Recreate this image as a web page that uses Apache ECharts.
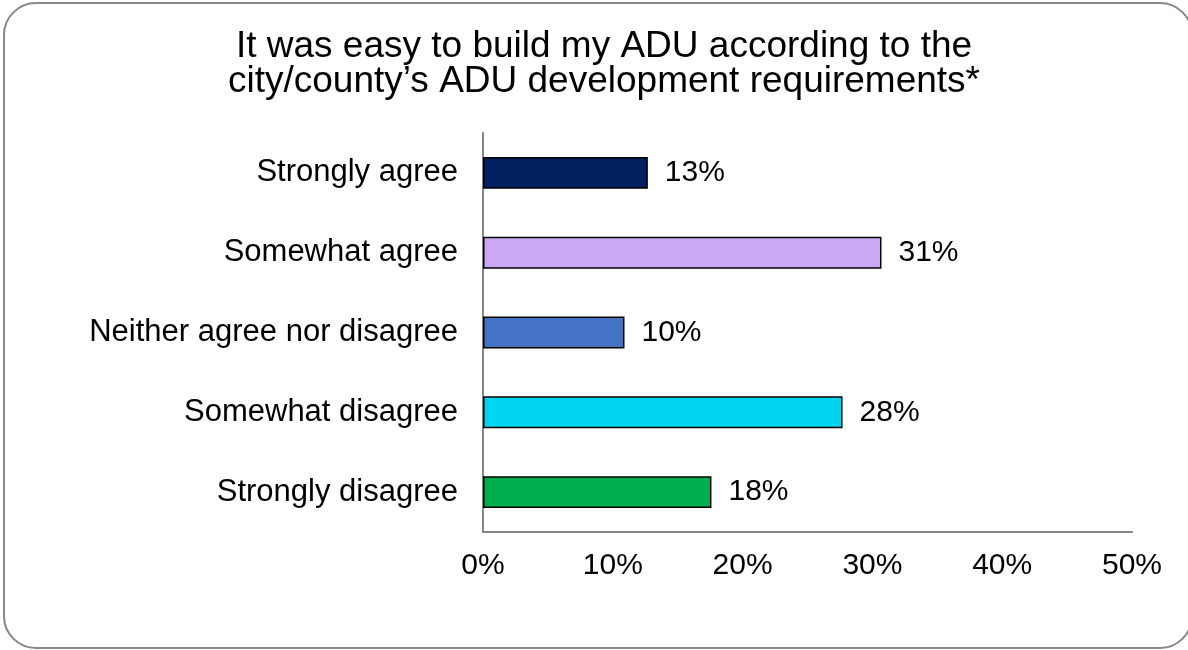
<!DOCTYPE html>
<html>
<head>
<meta charset="utf-8">
<script src="https://cdn.jsdelivr.net/npm/echarts@6/dist/echarts.min.js"></script>
<style>
  html, body { margin: 0; padding: 0; background: #fff; }
  #chart { width: 1188px; height: 650px; }
</style>
</head>
<body>
<div id="chart"></div>
<script>
  // categories top to bottom
  var categories = ['Strongly agree', 'Somewhat agree', 'Neither agree nor disagree', 'Somewhat disagree', 'Strongly disagree'];
  // bar lengths (percent)
  var values = [12.7, 30.7, 10.9, 27.7, 17.6];
  // labels as printed on the chart
  var valueLabels = ['13%', '31%', '10%', '28%', '18%'];
  var barColors = ['#002060', '#cca8f4', '#4472c4', '#00d5f0', '#00ae50'];
  var titleLines = ['It was easy to build my ADU according to the', 'city/county\u2019s ADU development requirements*'];

  var font = 'Liberation Sans, Arial, Helvetica, sans-serif';
  var myChart = echarts.init(document.getElementById('chart'));

  var option = {
    animation: false,
    title: {
      text: titleLines.join('\n'),
      left: 599,
      textAlign: 'center',
      top: 24,
      textStyle: {
        fontFamily: font,
        fontSize: 37,
        fontWeight: 'normal',
        color: '#000',
        lineHeight: 35
      }
    },
    graphic: [{
      type: 'rect',
      shape: { x: 4, y: 3, width: 1188, height: 645, r: 32 },
      style: { fill: 'none', stroke: '#888', lineWidth: 2 },
      silent: true
    }],
    grid: {
      left: 483,
      right: 56,
      top: 133,
      bottom: 118
    },
    xAxis: {
      type: 'value',
      min: 0,
      max: 50,
      interval: 10,
      axisLine: { show: true, lineStyle: { color: '#868686', width: 2 } },
      axisTick: { show: false },
      splitLine: { show: false },
      axisLabel: {
        formatter: '{value}%',
        margin: 19,
        fontFamily: font,
        fontSize: 30,
        color: '#000'
      }
    },
    yAxis: {
      type: 'category',
      inverse: true,
      data: categories,
      axisLine: { show: true, lineStyle: { color: '#868686', width: 2 } },
      axisTick: { show: false },
      axisLabel: {
        margin: 25,
        fontFamily: font,
        fontSize: 31,
        color: '#000'
      }
    },
    series: [{
      type: 'bar',
      barCategoryGap: '60%',
      data: values.map(function (v, i) {
        return { value: v, itemStyle: { color: barColors[i] } };
      }),
      itemStyle: { borderColor: '#000', borderWidth: 1.5 },
      label: {
        show: true,
        position: 'right',
        distance: 17,
        fontFamily: font,
        fontSize: 30,
        color: '#000',
        formatter: function (p) { return valueLabels[p.dataIndex]; }
      }
    }]
  };
  myChart.setOption(option);
</script>
</body>
</html>
